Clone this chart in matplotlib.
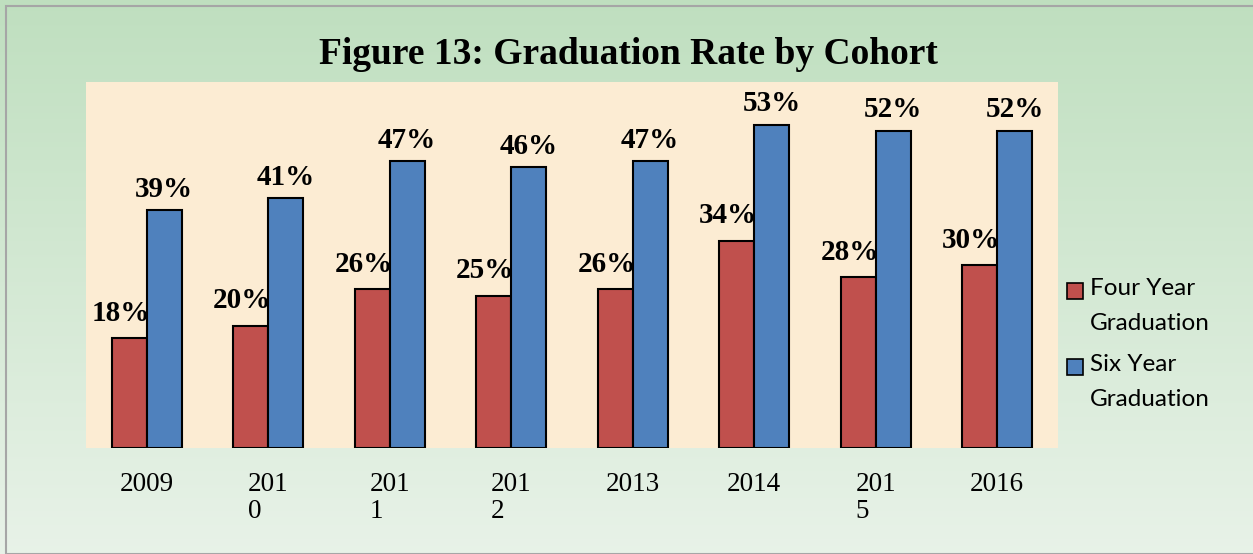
import numpy as np
import matplotlib
matplotlib.use("Agg")
import matplotlib.pyplot as plt
from matplotlib.patches import Rectangle

cohorts = ["2009", "201\n0", "201\n1", "201\n2", "2013", "2014", "201\n5", "2016"]
four_year = [18, 20, 26, 25, 26, 34, 28, 30]
six_year = [39, 41, 47, 46, 47, 53, 52, 52]
series_names = ["Four Year\nGraduation", "Six Year\nGraduation"]

red = "#c0504d"
blue = "#4f81bd"
serif = "Liberation Serif"

fig = plt.figure(figsize=(12.53, 5.54), dpi=100)

# green gradient background with thin gray border
bg = fig.add_axes([0, 0, 1, 1], zorder=-10)
grad = np.linspace(0, 1, 256).reshape(-1, 1)
top = np.array([0.75, 0.875, 0.75])
bot = np.array([0.91, 0.95, 0.91])
img = top + (bot - top) * grad[:, :, None]
bg.imshow(img, aspect="auto", extent=[0, 1, 0, 1], origin="upper")
bg.add_patch(Rectangle((6 / 1253, 0), 1, 1 - 6 / 554, fill=False,
                       edgecolor="#a6a6a6", linewidth=1.5))
bg.set_xlim(0, 1)
bg.set_ylim(0, 1)
bg.axis("off")

ax = fig.add_axes([86 / 1253, 1 - 448 / 554, 972 / 1253, 366 / 554])
ax.set_facecolor("#fcecd3")
x = np.arange(len(cohorts))
w = 0.288
ax.bar(x - w / 2, four_year, w, color=red, edgecolor="black", linewidth=1.5)
ax.bar(x + w / 2, six_year, w, color=blue, edgecolor="black", linewidth=1.5)

for xi, v in zip(x, four_year):
    ax.annotate(f"{v}%", (xi - w / 2 - 0.07, v), xytext=(0, 18), textcoords="offset points",
                ha="center", va="center", fontsize=21, fontweight="bold", family=serif)
for xi, v in zip(x, six_year):
    ax.annotate(f"{v}%", (xi + w / 2, v), xytext=(0, 15), textcoords="offset points",
                ha="center", va="center", fontsize=21, fontweight="bold", family=serif)

ax.set_xlim(-0.5, len(cohorts) - 0.5)
ax.set_ylim(0, 60)
ax.set_yticks([])
ax.set_xticks(x)
ax.set_xticklabels(cohorts, family=serif, fontsize=19.5, va="top", multialignment="left",
                   linespacing=1.15)
ax.tick_params(axis="x", length=0, pad=17)
for s in ax.spines.values():
    s.set_visible(False)

fig.text(628 / 1253, 1 - 55 / 554, "Figure 13: Graduation Rate by Cohort", ha="center", va="center",
         fontsize=27, fontweight="bold", family=serif)

# legend: square swatch aligned with the first line of each two-line label
for i, (name, col) in enumerate(zip(series_names, [red, blue])):
    y0 = 291 + i * 76
    fig.patches.append(Rectangle((1067 / 1253, 1 - (y0 + 8) / 554), 16 / 1253, 16 / 554,
                                 transform=fig.transFigure, facecolor=col,
                                 edgecolor="black", linewidth=1.2))
    fig.text(1090 / 1253, 1 - (y0 - 13) / 554, name, ha="left", va="top",
             fontsize=17.5, family="Lato", linespacing=1.8)

fig.savefig("out.png", dpi=100)
